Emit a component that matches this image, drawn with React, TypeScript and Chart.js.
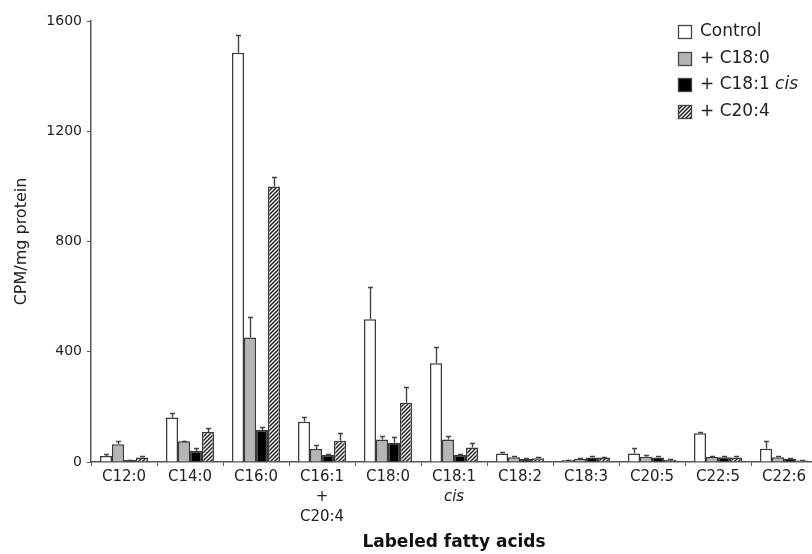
import { useEffect, useRef } from 'react';
import { Chart, registerables } from 'chart.js';

Chart.register(...registerables);

const FONT = '"DejaVu Sans", Verdana, sans-serif';

const categories: (string | string[])[] = [
  'C12:0', 'C14:0', 'C16:0', ['C16:1', '+', 'C20:4'], 'C18:0', ['C18:1', 'cis'],
  'C18:2', 'C18:3', 'C20:5', 'C22:5', 'C22:6',
];
const seriesNames = ['Control', '+ C18:0', '+ C18:1 cis', '+ C20:4'];

const control = [22, 161, 1485, 146, 518, 358, 31, 7, 31, 104, 48];
const controlErr = [7, 16, 65, 18, 116, 60, 6, 2, 21, 4, 27];
const c180 = [64, 75, 452, 47, 82, 82, 17, 12, 19, 18, 17];
const c180Err = [12, 3, 75, 15, 12, 12, 6, 3, 5, 3, 4];
const c181 = [7, 40, 116, 25, 70, 25, 11, 16, 16, 17, 12];
const c181Err = [2, 10, 12, 3, 22, 3, 3, 4, 5, 5, 3];
const c204 = [16, 109, 1000, 77, 215, 53, 14, 16, 8, 16, 5];
const c204Err = [6, 13, 35, 27, 56, 17, 3, 3, 2, 4, 2];

const yMin = 0;
const yMax = 1600;
const yStep = 400;

const xTitle = 'Labeled fatty acids';
const yTitle = 'CPM/mg protein';

function makeHatch(): CanvasPattern | string {
  const s = 4;
  const c = document.createElement('canvas');
  c.width = s;
  c.height = s;
  const g = c.getContext('2d');
  if (!g) return '#666';
  g.fillStyle = '#ffffff';
  g.fillRect(0, 0, s, s);
  g.strokeStyle = '#222';
  g.lineWidth = 1.5;
  g.beginPath();
  g.moveTo(-1, s + 1);
  g.lineTo(s + 1, -1);
  g.moveTo(-1, 1);
  g.lineTo(1, -1);
  g.moveTo(s - 1, s + 1);
  g.lineTo(s + 1, s - 1);
  g.stroke();
  const p = g.createPattern(c, 'repeat');
  return p || '#666';
}

export default function App() {
  const ref = useRef<HTMLCanvasElement | null>(null);

  useEffect(() => {
    const canvas = ref.current;
    if (!canvas) return;
    const hatch = makeHatch();
    const fills: (string | CanvasPattern)[] = ['#ffffff', '#b5b5b5', '#000000', hatch];
    const errs = [controlErr, c180Err, c181Err, c204Err];

    const errorBars = {
      id: 'errorBars',
      afterDatasetsDraw(chart: any) {
        const ctx = chart.ctx;
        const ys = chart.scales.y;
        ctx.save();
        ctx.strokeStyle = '#444';
        ctx.lineWidth = 1.4;
        chart.data.datasets.forEach((ds: any, i: number) => {
          const meta = chart.getDatasetMeta(i);
          meta.data.forEach((bar: any, j: number) => {
            const v = ds.data[j];
            const e = errs[i][j];
            if (!e) return;
            const x = Math.round(bar.x) + 0.5;
            const y0 = bar.y;
            const y1 = ys.getPixelForValue(v + e);
            ctx.beginPath();
            ctx.moveTo(x, y0);
            ctx.lineTo(x, y1);
            ctx.moveTo(x - 2.5, Math.round(y1) + 0.5);
            ctx.lineTo(x + 2.5, Math.round(y1) + 0.5);
            ctx.stroke();
          });
        });
        ctx.restore();
      },
    };

    const labelsAndLegend = {
      id: 'labelsAndLegend',
      afterDraw(chart: any) {
        const ctx = chart.ctx;
        const xs = chart.scales.x;
        ctx.save();
        ctx.fillStyle = '#222';
        ctx.textAlign = 'center';
        ctx.textBaseline = 'middle';
        categories.forEach((cat, i) => {
          const lines = Array.isArray(cat) ? cat : [cat];
          const x = xs.getPixelForValue(i);
          lines.forEach((ln, k) => {
            ctx.font = (ln === 'cis' ? 'italic ' : '') + '15px ' + FONT;
            ctx.fillText(ln, x, 477 + k * 20);
          });
        });
        // legend
        const rowsY = [32, 58.5, 85, 111.5];
        ctx.textAlign = 'left';
        seriesNames.forEach((name, i) => {
          const cy = rowsY[i];
          const sx = 678.5;
          const sy = Math.round(cy - 7) + 0.5;
          ctx.fillStyle = fills[i] as any;
          ctx.fillRect(sx, sy, 13, 13);
          ctx.strokeStyle = '#444';
          ctx.lineWidth = 1.3;
          ctx.strokeRect(sx, sy, 13, 13);
          ctx.fillStyle = '#222';
          const parts = name.split(' cis');
          ctx.font = '17px ' + FONT;
          ctx.fillText(parts[0], 700, cy);
          if (parts.length > 1) {
            const w = ctx.measureText(parts[0] + ' ').width;
            ctx.font = 'italic 17px ' + FONT;
            ctx.fillText('cis', 700 + w, cy);
          }
        });
        ctx.restore();
      },
    };

    const chart = new Chart(canvas, {
      type: 'bar',
      data: {
        labels: categories.map((c) => (Array.isArray(c) ? c.join(' ') : c)),
        datasets: [control, c180, c181, c204].map((d, i) => ({
          label: seriesNames[i],
          data: d,
          backgroundColor: fills[i] as any,
          borderColor: '#3a3a3a',
          borderWidth: 1.5,
          categoryPercentage: 0.727,
          barPercentage: 1.0,
        })),
      },
      options: {
        responsive: false,
        animation: false,
        devicePixelRatio: 1,
        layout: { padding: { left: 0, right: 3, top: 21, bottom: 0 } },
        plugins: {
          legend: { display: false },
          tooltip: { enabled: false },
        },
        scales: {
          x: {
            grid: {
              display: true,
              drawOnChartArea: false,
              drawTicks: true,
              tickLength: 4,
              color: '#555',
              offset: true,
            },
            border: { display: true, color: '#555', width: 1.5 },
            ticks: { display: false },
            title: {
              display: true,
              text: xTitle,
              color: '#111',
              font: { family: FONT, size: 17, weight: 'bold' },
              padding: { top: 0, bottom: 1 },
            },
            afterFit: (s: any) => {
              s.height = 92;
            },
          },
          y: {
            min: yMin,
            max: yMax,
            grid: {
              display: true,
              drawOnChartArea: false,
              drawTicks: true,
              tickLength: 4,
              color: '#555',
            },
            border: { display: true, color: '#555', width: 1.5 },
            ticks: {
              stepSize: yStep,
              color: '#222',
              padding: 5,
              font: { family: FONT, size: 14 },
              callback: (v: any) => String(v),
            },
            title: {
              display: true,
              text: yTitle,
              color: '#222',
              font: { family: FONT, size: 16 },
              padding: { top: 12, bottom: 0 },
            },
            afterFit: (s: any) => {
              s.width = 91;
            },
          },
        },
      },
      plugins: [errorBars, labelsAndLegend],
    });

    return () => {
      chart.destroy();
    };
  }, []);

  return (
    <div
      style={{
        position: 'absolute',
        left: 0,
        top: 0,
        width: 812,
        height: 554,
        overflow: 'hidden',
        background: '#fff',
      }}
    >
      <canvas ref={ref} width={820} height={554} style={{ width: 820, height: 554, display: 'block' }} />
    </div>
  );
}
